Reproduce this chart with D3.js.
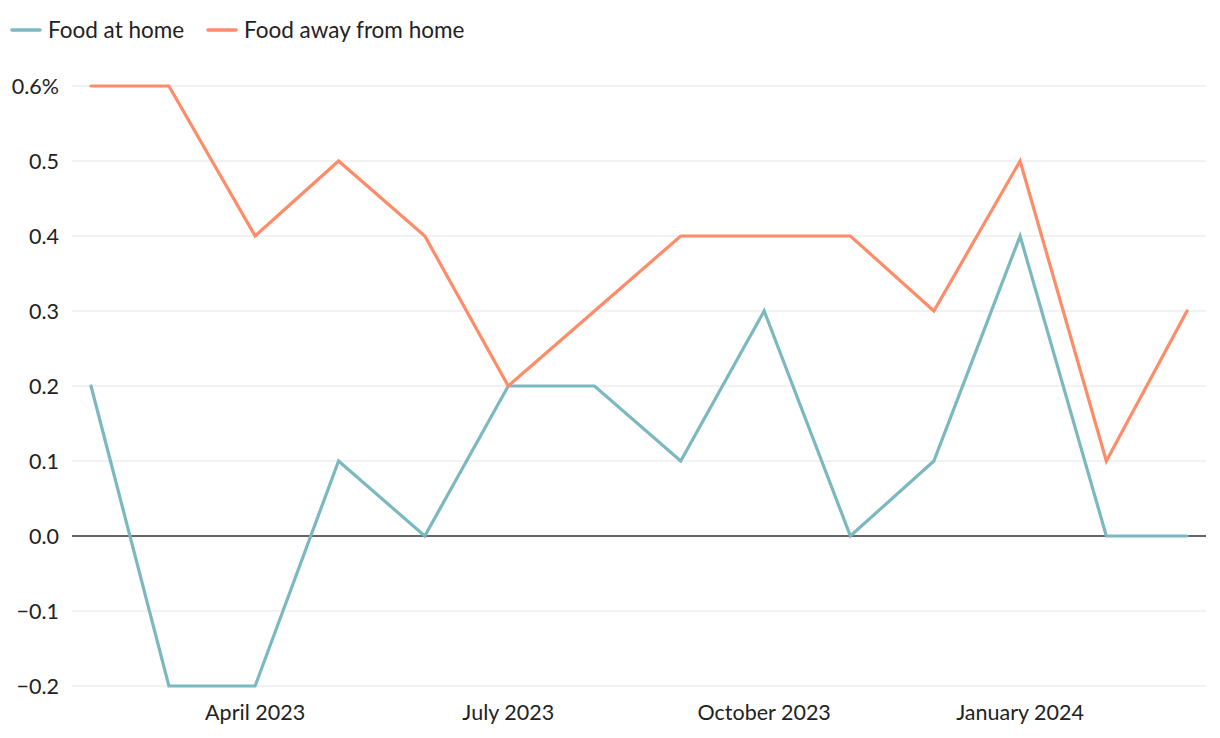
<!DOCTYPE html>
<html>
<head>
<meta charset="utf-8">
<script src="https://cdn.jsdelivr.net/npm/d3@7"></script>
<style>
  body { margin: 0; background: #fff; }
  svg { font-family: Lato, "Noto Sans", sans-serif; }
</style>
</head>
<body>
<svg id="chart" width="1220" height="738"></svg>
<script>
// monthly changes, Feb 2023 .. Mar 2024
const months = ["2023-02", "2023-03", "2023-04", "2023-05", "2023-06", "2023-07", "2023-08",
    "2023-09", "2023-10", "2023-11", "2023-12", "2024-01", "2024-02", "2024-03"];
const foodAtHome = [0.2, -0.2, -0.2, 0.1, 0.0, 0.2, 0.2, 0.1, 0.3, 0.0, 0.1, 0.4, 0.0, 0.0];
const foodAway = [0.6, 0.6, 0.4, 0.5, 0.4, 0.2, 0.3, 0.4, 0.4, 0.4, 0.3, 0.5, 0.1, 0.3];
const yTicks = [-0.2, -0.1, 0.0, 0.1, 0.2, 0.3, 0.4, 0.5, 0.6];
const xTicks = ["2023-04", "2023-07", "2023-10", "2024-01"];
const seriesNames = ["Food at home", "Food away from home"];
const colors = ["#7bb8bf", "#ff8c69"];

let svg = d3.select('#chart');
let parse = d3.timeParse("%Y-%m");
let dates = months.map(parse);

let xScale = d3.scaleTime()
    .domain([dates[0], dates[dates.length - 1]])
    .range([91, 1187]);
let yScale = d3.scaleLinear()
    .domain([-0.2, 0.6])
    .range([686, 86]);

// gridlines
svg.append("g").selectAll("line")
    .data(yTicks)
    .join("line")
    .attr("x1", 72).attr("x2", 1206)
    .attr("y1", d => yScale(d)).attr("y2", d => yScale(d))
    .attr("stroke", d => d === 0 ? "#333" : "#e6e6e6")
    .attr("stroke-width", d => d === 0 ? 1.6 : 1.2);

// y labels
let fmt = d => {
    let s = d3.format(".1f")(Math.abs(d));
    if (d < 0) s = "\u2212" + s;
    if (d === 0.6) s += "%";
    return s;
};
svg.append("g").selectAll("text")
    .data(yTicks)
    .join("text")
    .attr("x", 59)
    .attr("y", d => yScale(d))
    .attr("dy", "0.35em")
    .attr("text-anchor", "end")
    .attr("font-size", 21.5)
    .attr("fill", "#222")
    .text(fmt);

// x labels
let xFmt = d3.timeFormat("%B %Y");
svg.append("g").selectAll("text")
    .data(xTicks.map(parse))
    .join("text")
    .attr("x", d => xScale(d))
    .attr("y", 720)
    .attr("text-anchor", "middle")
    .attr("font-size", 21.5)
    .attr("fill", "#222")
    .text(xFmt);

// lines
let line = d3.line()
    .x((d, i) => xScale(dates[i]))
    .y(d => yScale(d));
[foodAtHome, foodAway].forEach(function (vals, i) {
    svg.append("path")
        .datum(vals)
        .attr("d", line)
        .attr("fill", "none")
        .attr("stroke", colors[i])
        .attr("stroke-width", 3.2)
        .attr("stroke-linejoin", "miter")
        .attr("stroke-linecap", "round");
});

// legend
let legendX = [12, 208];
seriesNames.forEach(function (name, i) {
    let g = svg.append("g").attr("transform", "translate(" + legendX[i] + ",30)");
    g.append("line")
        .attr("x1", 0).attr("x2", 28)
        .attr("stroke", colors[i])
        .attr("stroke-width", 3.5)
        .attr("stroke-linecap", "round");
    g.append("text")
        .attr("x", 36)
        .attr("dy", "0.35em")
        .attr("font-size", 22.5)
        .attr("fill", "#222")
        .text(name);
});
</script>
</body>
</html>
